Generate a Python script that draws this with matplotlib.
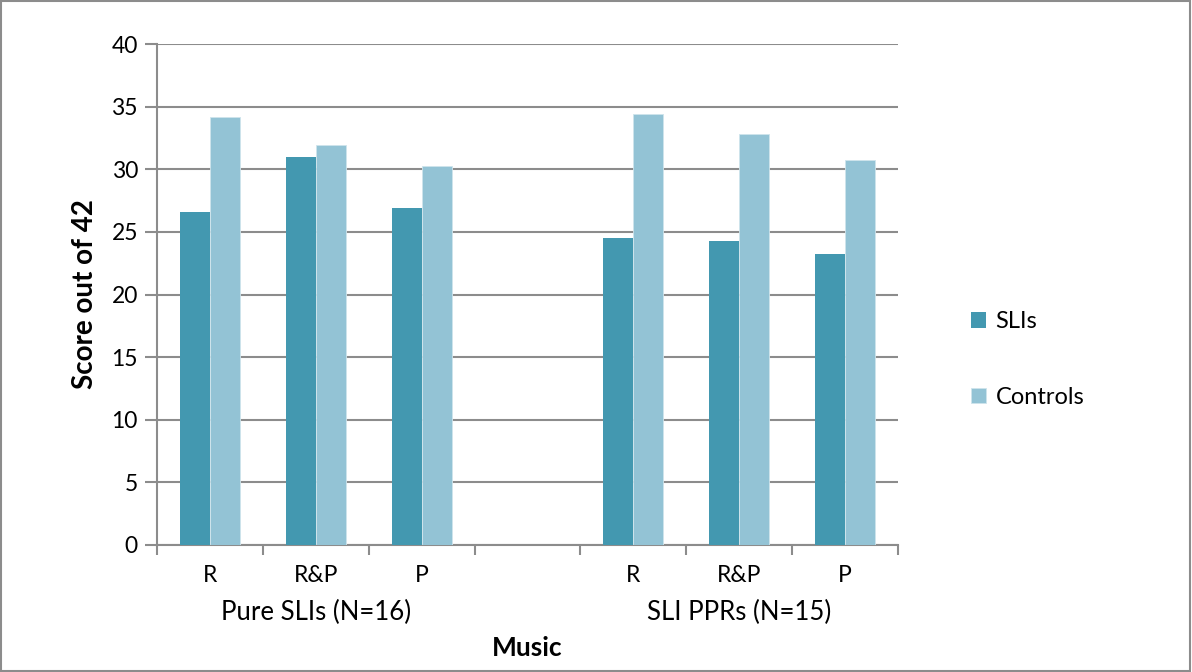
import numpy as np
import matplotlib
matplotlib.use("Agg")
import matplotlib.pyplot as plt
from matplotlib.patches import Rectangle

plt.rcParams['font.family'] = ['Lato', 'DejaVu Sans']

# data
conditions = ["R", "R&P", "P", "", "R", "R&P", "P"]
groups = ["Pure SLIs (N=16)", "SLI PPRs (N=15)"]
sli_scores = [26.6, 31.0, 26.9, np.nan, 24.5, 24.3, 23.2]
control_scores = [34.2, 31.9, 30.3, np.nan, 34.4, 32.8, 30.7]

sli_color = "#4398B0"
ctrl_color = "#93C3D5"
grid_color = "#8C8C8C"

fig = plt.figure(figsize=(11.92, 6.72), dpi=100)
ax = fig.add_axes([0.132, 0.189, 0.621, 0.7455])

x = np.arange(len(conditions))
w = 0.283
ax.bar(x - w / 2, sli_scores, w, color=sli_color, label="SLIs", zorder=3)
ax.bar(x + w / 2, control_scores, w, color=ctrl_color, label="Controls", zorder=3,
       edgecolor="#CFE4EC", linewidth=0.6)

ax.set_xlim(-0.5, len(conditions) - 0.5)
ax.set_ylim(0, 40)
ax.set_yticks(range(0, 41, 5))
ax.yaxis.grid(True, color=grid_color, linewidth=1.5, zorder=0)
ax.set_axisbelow(True)

for s in ["top", "right"]:
    ax.spines[s].set_visible(False)
ax.spines["left"].set_color(grid_color)
ax.spines["bottom"].set_color(grid_color)
ax.spines["left"].set_linewidth(1.5)
ax.spines["bottom"].set_linewidth(1.5)

# ticks at slot boundaries
ax.set_xticks(np.arange(-0.5, len(conditions), 1.0))
ax.set_xticklabels([])
ax.tick_params(axis="x", direction="out", length=7, width=1.5, color=grid_color)
ax.tick_params(axis="y", direction="out", length=9, width=1.5, color=grid_color,
               labelsize=16.5, pad=5)

for xi, lab in zip(x, conditions):
    ax.text(xi, -1.6, lab, ha="center", va="top", fontsize=16.5)
ax.text(1, -4.4, groups[0], ha="center", va="top", fontsize=18.5)
ax.text(5, -4.4, groups[1], ha="center", va="top", fontsize=18.5)
ax.text(3, -7.3, "Music", ha="center", va="top", fontsize=19, fontweight="bold")

ax.set_ylabel("Score out of 42", fontsize=20, fontweight="bold", labelpad=10)

leg = ax.legend(loc="center left", bbox_to_anchor=(1.07, 0.37), frameon=False,
                fontsize=17, handlelength=0.65, handleheight=0.65,
                labelspacing=2.3, handletextpad=0.4)

fig.patches.append(Rectangle((0.001, 0.001), 0.997, 0.997, transform=fig.transFigure,
                             fill=False, edgecolor="#8C8C8C", linewidth=1.5))

fig.savefig("out.png", dpi=100)
